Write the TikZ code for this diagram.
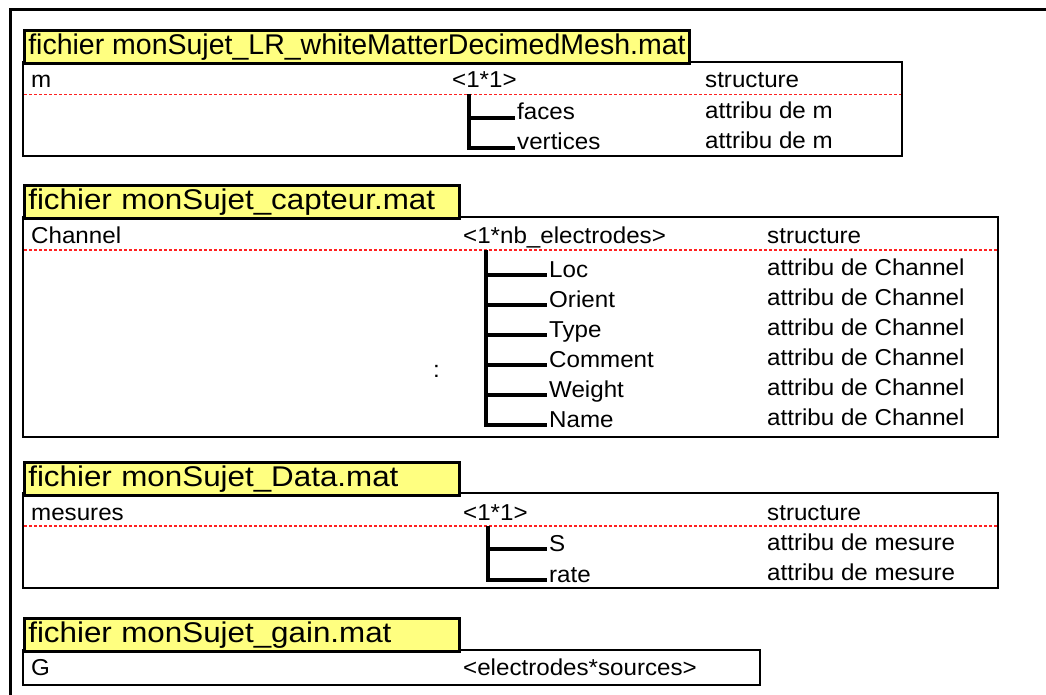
\documentclass[tikz,border=0pt]{standalone}
\usepackage{fontspec}
\setmainfont{Liberation Sans}
\newfontfamily\cellfont[FakeStretch=1.05]{Liberation Sans}
\newfontfamily\widetitlefont[FakeStretch=1.1]{Liberation Sans}
\usetikzlibrary{positioning}
\definecolor{titleyellow}{HTML}{FFFF80}
\definecolor{sepred}{HTML}{FF2020}

\tikzset{
  filebox/.style={draw, line width=2.6pt},
  filetitle/.style={draw, line width=2.6pt, fill=titleyellow, anchor=north west, inner xsep=4pt, inner ysep=0pt, minimum height=33pt, font=\fontsize{28.5}{30}\selectfont},
  widetitle/.style={filetitle, minimum width=435pt, text width=427pt, font=\widetitlefont\fontsize{28.5}{30}\selectfont},
  cell/.style={anchor=base west, inner sep=0pt, font=\cellfont\fontsize{23}{25}\selectfont},
  attr/.style={cell, inner xsep=2pt},
  sepline/.style={sepred, line width=1.2pt, dash pattern=on 3pt off 2pt},
  tree/.style={line width=4pt}
}

\begin{document}
\begin{tikzpicture}[x=1pt,y=-1pt]
\useasboundingbox (0,0) rectangle (1046,695);

\draw[line width=3pt] (10,700) -- (10,10) -- (1050,10);

% mesh file
\begin{scope}
\draw[filebox] (23,62) rectangle (902,156);
\node(t1)[filetitle] at (23,29) {fichier monSujet\_LR\_whiteMatterDecimedMesh.mat};
\draw[sepline] (24,94.5) -- (901,94.5);
\node(m)[cell] at (31,88) {m};
\node(mdim)[cell] at (452,88) {<1*1>};
\node(mtype)[cell] at (705,88) {structure};
\coordinate(mroot) at (469,94);
\node(faces)[attr] at (515,120) {faces};
\node(vertices)[attr] at (515,150) {vertices};
\node(afaces)[cell] at (705,119) {attribu de m};
\node(avertices)[cell] at (705,149) {attribu de m};
\draw[tree] (mroot) |- ([yshift=2pt]faces.base west);
\draw[tree] (mroot) |- ([yshift=2pt]vertices.base west);
\end{scope}

% sensor file
\begin{scope}
\draw[filebox] (23,217) rectangle (998,437);
\node(t2)[widetitle] at (23,184) {fichier monSujet\_capteur.mat};
\draw[sepline] (24,250) -- (997,250);
\node(ch)[cell] at (31,243) {Channel};
\node(chdim)[cell] at (463,243) {<1*nb\_electrodes>};
\node(chtype)[cell] at (767,243) {structure};
\node(dots)[cell] at (433,377) {:};
\coordinate(chroot) at (486,250);
\foreach \f [count=\i] in {Loc,Orient,Type,Comment,Weight,Name} {
  \node(c\i)[attr] at (547,247+30*\i) {\f};
  \node(ac\i)[cell] at (767,245+30*\i) {attribu de Channel};
  \draw[tree] (chroot) |- ([yshift=2pt]c\i.base west);
}
\end{scope}

% data file
\begin{scope}
\draw[filebox] (23,493) rectangle (998,588);
\node(t3)[widetitle] at (23,461) {fichier monSujet\_Data.mat};
\draw[sepline] (24,526) -- (997,526);
\node(mes)[cell] at (31,520) {mesures};
\node(mesdim)[cell] at (463,520) {<1*1>};
\node(mestype)[cell] at (767,520) {structure};
\coordinate(mesroot) at (488,526);
\node(S)[attr] at (547,551) {S};
\node(rate)[attr] at (547,582) {rate};
\node(aS)[cell] at (767,550) {attribu de mesure};
\node(arate)[cell] at (767,580) {attribu de mesure};
\draw[tree] (mesroot) |- ([yshift=2pt]S.base west);
\draw[tree] (mesroot) |- ([yshift=2pt]rate.base west);
\end{scope}

% gain file
\begin{scope}
\draw[filebox] (23,650) rectangle (760,685);
\node(t4)[widetitle] at (23,617) {fichier monSujet\_gain.mat};
\node(G)[cell] at (31,675) {G};
\node(Gdim)[cell] at (463,675) {<electrodes*sources>};
\end{scope}

\end{tikzpicture}
\end{document}
